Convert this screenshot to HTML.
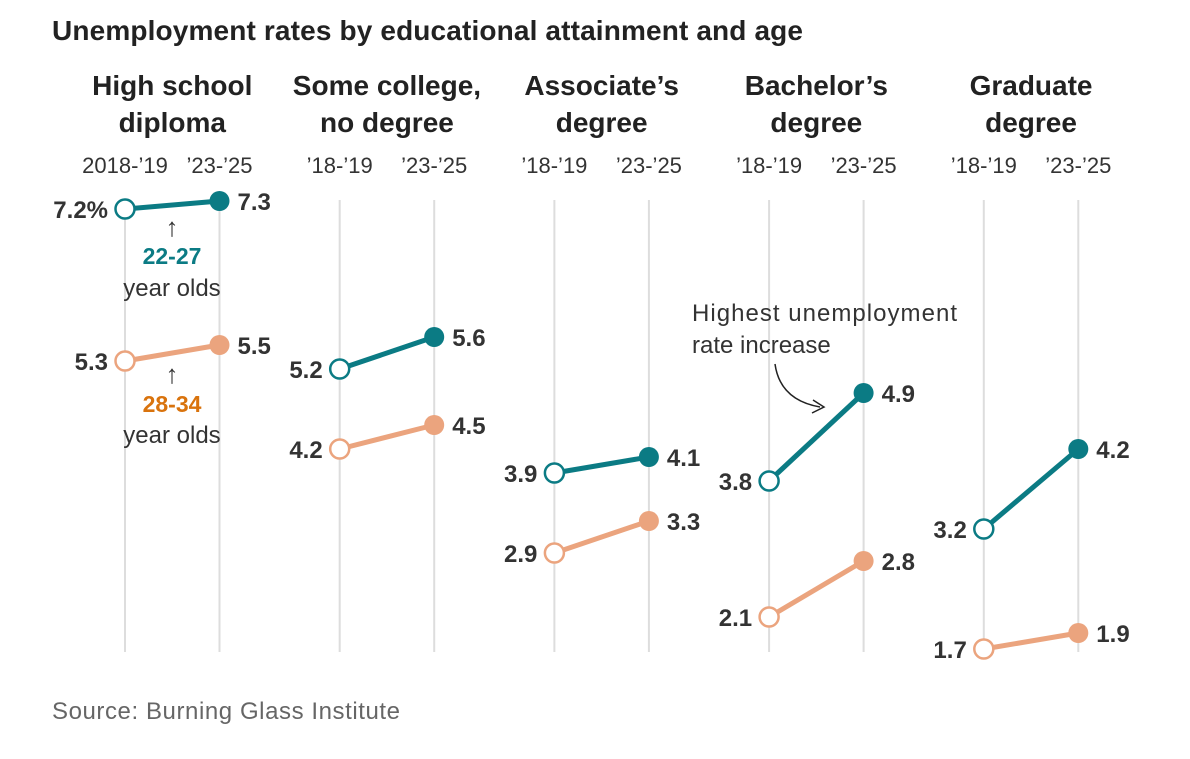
<!DOCTYPE html>
<html><head><meta charset="utf-8"><style>
html,body{margin:0;padding:0;background:#fff;}
body{width:1190px;height:754px;overflow:hidden;font-family:"Liberation Sans",sans-serif;}
</style></head><body>
<svg id="chart" width="1190" height="754" xmlns="http://www.w3.org/2000/svg" font-family="Liberation Sans, sans-serif">
<text x="52" y="40" font-size="28" font-weight="bold" fill="#222" textLength="751">Unemployment rates by educational attainment and age</text>
<g id="grid"></g>
<g id="marks"></g>
<g id="labels"></g>
<text x="172" y="236" font-size="26" text-anchor="middle" fill="#333">↑</text>
<text x="172" y="264" font-size="23" font-weight="bold" text-anchor="middle" fill="#0b7b84">22-27</text>
<text x="172" y="296" font-size="24" text-anchor="middle" fill="#333">year olds</text>
<text x="172" y="383" font-size="26" text-anchor="middle" fill="#333">↑</text>
<text x="172" y="412" font-size="23" font-weight="bold" text-anchor="middle" fill="#d9730d">28-34</text>
<text x="172" y="443" font-size="24" text-anchor="middle" fill="#333">year olds</text>
<text x="692" y="321" font-size="24" fill="#333" textLength="265">Highest unemployment</text>
<text x="692" y="353" font-size="24" fill="#333">rate increase</text>
<path d="M775,364 Q780,400 820,407" fill="none" stroke="#222" stroke-width="1.5"/>
<path d="M813,400 L824,407 L812,413" fill="none" stroke="#222" stroke-width="1.5"/>
<text x="52" y="719" font-size="24" fill="#666" textLength="348">Source: Burning Glass Institute</text>
</svg>
<script>
const categories = ["High school|diploma","Some college,|no degree","Associate’s|degree","Bachelor’s|degree","Graduate|degree"];
const young = [[7.2,7.3],[5.2,5.6],[3.9,4.1],[3.8,4.9],[3.2,4.2]];
const older = [[5.3,5.5],[4.2,4.5],[2.9,3.3],[2.1,2.8],[1.7,1.9]];
const periodLabels = [["2018-’19","’23-’25"],["’18-’19","’23-’25"],["’18-’19","’23-’25"],["’18-’19","’23-’25"],["’18-’19","’23-’25"]];
const NS="http://www.w3.org/2000/svg";
const y = v => 209 + (7.2 - v) * 80;
const x = (c, p) => 125 + c * 214.7 + p * 94.5;
const grid=document.getElementById('grid'), marks=document.getElementById('marks'), labels=document.getElementById('labels');
function mk(tag, attrs, parent){const e=document.createElementNS(NS,tag);for(const k in attrs)e.setAttribute(k,attrs[k]);parent.appendChild(e);return e;}
const TEAL="#0b7b84", ORANGE="#eba47e";
categories.forEach((cat,c)=>{
  const cx=(x(c,0)+x(c,1))/2;
  cat.split('|').forEach((t,i)=>{
    const e=mk('text',{x:cx,y:95+i*37,'font-size':28,'font-weight':'bold','text-anchor':'middle',fill:'#222'},labels);
    
    
    e.textContent=t;
  });
  [0,1].forEach(p=>{
    const g=mk('line',{x1:x(c,p),x2:x(c,p),y1:200,y2:652,stroke:'#ddd','stroke-width':2},grid);
    
    
    const t=mk('text',{x:x(c,p),y:173,'font-size':22,'text-anchor':'middle',fill:'#333'},labels);
    
    
    t.textContent=periodLabels[c][p];
  });
  [[young,TEAL,'young'],[older,ORANGE,'older']].forEach(([arr,col,nm])=>{
    const v=arr[c];
    const l=mk('line',{x1:x(c,0),y1:y(v[0]),x2:x(c,1),y2:y(v[1]),stroke:col,'stroke-width':5},marks);
    
    
    const c0=mk('circle',{cx:x(c,0),cy:y(v[0]),r:9.5,fill:'#fff',stroke:col,'stroke-width':2.5},marks);
    
    
    const c1=mk('circle',{cx:x(c,1),cy:y(v[1]),r:10,fill:col},marks);
    
    
    const a=mk('text',{x:x(c,0)-17,y:y(v[0])+9,'font-size':24,'font-weight':'bold','text-anchor':'end',fill:'#333'},labels);
    
    
    a.textContent=v[0].toFixed(1)+(c===0&&nm==='young'?'%':'');
    const b=mk('text',{x:x(c,1)+18,y:y(v[1])+9,'font-size':24,'font-weight':'bold',fill:'#333'},labels);
    
    
    b.textContent=v[1].toFixed(1);
  });
});
</script>
</body></html>
